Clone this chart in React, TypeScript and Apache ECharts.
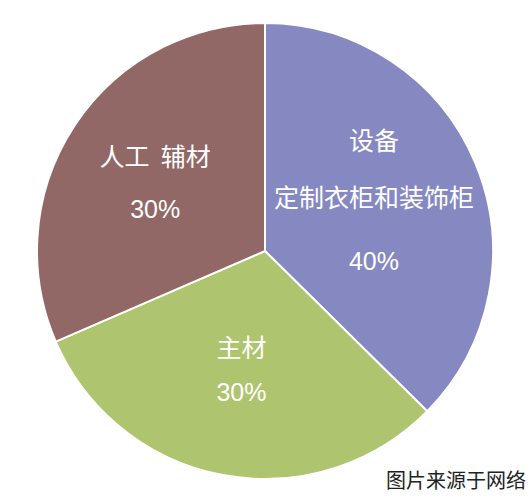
import { useEffect, useRef } from "react";
import * as echarts from "echarts";

const names = ["设备\n定制衣柜和装饰柜", "主材", "人工  辅材"];
// slice sizes (clockwise from 12 o'clock)
const values = [37.4, 31.1, 31.5];
// percentages as printed on the slices
const pctLabels = ["40%", "30%", "30%"];
const colors = ["#8689C1", "#AFC46E", "#926866"];
const nameGaps = [57, 46, 54];
const pctGaps = [73, 46, 54];
// small nudges of the inner labels
const labelShift = [
  [1, -2],
  [-2, 3],
  [-12, -5],
];
const sourceNote = "图片来源于网络";

export default function App() {
  const chartRef = useRef<HTMLDivElement>(null);

  useEffect(() => {
    if (!chartRef.current) return;
    const chart = echarts.init(chartRef.current, undefined, { renderer: "svg" });

    const seriesData = values.map((v, i) => ({
      value: v,
      name: names[i],
      itemStyle: { color: colors[i] },
      label: {
        rich: {
          n: {
            color: "#fff",
            fontSize: 25,
            fontFamily: "Noto Sans CJK SC",
            lineHeight: nameGaps[i],
          },
          p: {
            color: "#fff",
            fontSize: 25,
            fontFamily: "Liberation Sans",
            lineHeight: pctGaps[i],
          },
        },
      },
    }));

    const option: echarts.EChartsOption = {
      animation: false,
      title: {
        text: sourceNote,
        right: 0,
        top: 464,
        textStyle: {
          color: "#222",
          fontSize: 20,
          fontWeight: "normal",
          fontFamily: "Noto Sans CJK SC",
        },
      },
      series: [
        {
          type: "pie",
          center: [265, 251],
          radius: 228,
          startAngle: 90,
          clockwise: true,
          silent: true,
          itemStyle: { borderColor: "#fff", borderWidth: 2 },
          label: {
            show: true,
            position: "inner",
            formatter: (p: any) => `{n|${p.name}}\n{p|${pctLabels[p.dataIndex]}}`,
          },
          labelLayout: (params: any) => ({
            dx: labelShift[params.dataIndex][0],
            dy: labelShift[params.dataIndex][1],
          }),
          labelLine: { show: false },
          data: seriesData,
        },
      ],
    };

    chart.setOption(option);
    return () => {
      chart.dispose();
    };
  }, []);

  return (
    <div
      ref={chartRef}
      style={{ position: "absolute", left: 0, top: 0, width: 531, height: 502 }}
    />
  );
}
